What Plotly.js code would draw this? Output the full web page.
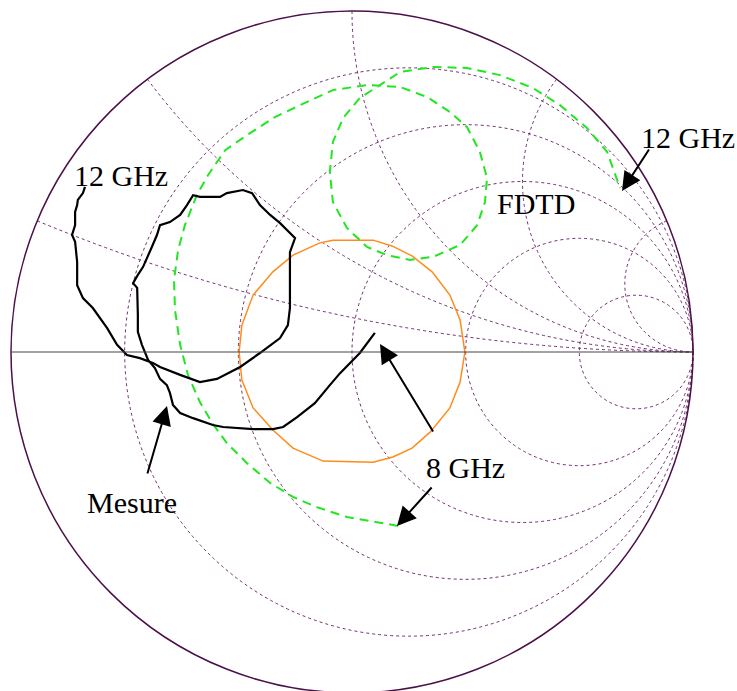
<!DOCTYPE html>
<html>
<head>
<meta charset="utf-8">
<script src="https://cdn.plot.ly/plotly-3.0.1.min.js"></script>
<style>
html,body{margin:0;padding:0;overflow:hidden;background:#fff;}
#chart{width:737px;height:700px;}
</style>
</head>
<body>
<div id="chart"></div>
<script>
const mesureGammaRe = [-0.783,-0.789,-0.804,-0.806,-0.812,-0.812,-0.821,-0.812,-0.806,-0.806,-0.789,-0.760,-0.718,-0.689,-0.660,-0.622,-0.584,-0.563,-0.504,-0.446,-0.396,-0.328,-0.270,-0.211,-0.188,-0.182,-0.182,-0.182,-0.167,-0.176,-0.211,-0.240,-0.270,-0.293,-0.320,-0.367,-0.387,-0.446,-0.466,-0.484,-0.504,-0.534,-0.563,-0.572,-0.587,-0.601,-0.613,-0.628,-0.642,-0.630,-0.628,-0.628,-0.616,-0.598,-0.578,-0.563,-0.543,-0.534,-0.525,-0.504,-0.466,-0.408,-0.378,-0.290,-0.232,-0.202,-0.161,-0.109,-0.065,-0.035,0.023,0.067];
const mesureGammaIm = [0.484,0.466,0.446,0.431,0.411,0.372,0.343,0.323,0.264,0.196,0.158,0.129,0.070,0.021,-0.009,-0.018,-0.032,-0.044,-0.067,-0.088,-0.079,-0.044,-0.003,0.041,0.079,0.129,0.217,0.293,0.334,0.343,0.378,0.402,0.431,0.466,0.475,0.466,0.455,0.455,0.460,0.431,0.402,0.381,0.372,0.343,0.308,0.276,0.249,0.226,0.202,0.188,0.109,0.059,0.021,-0.023,-0.047,-0.079,-0.097,-0.120,-0.155,-0.179,-0.194,-0.214,-0.220,-0.226,-0.226,-0.220,-0.191,-0.150,-0.097,-0.062,-0.003,0.056];

const fdtdGammaRe = [0.135,0.073,-0.015,-0.103,-0.173,-0.240,-0.308,-0.367,-0.408,-0.446,-0.481,-0.504,-0.519,-0.522,-0.510,-0.490,-0.455,-0.422,-0.372,-0.299,-0.226,-0.152,-0.056,0.044,0.141,0.220,0.287,0.337,0.375,0.396,0.390,0.367,0.317,0.238,0.170,0.103,0.044,-0.015,-0.056,-0.065,-0.056,-0.026,0.023,0.073,0.141,0.238,0.337,0.434,0.531,0.610,0.689,0.748,0.786];
const fdtdGammaIm = [-0.510,-0.499,-0.484,-0.455,-0.425,-0.384,-0.326,-0.267,-0.211,-0.147,-0.067,0.021,0.123,0.211,0.299,0.372,0.460,0.519,0.592,0.642,0.689,0.724,0.768,0.783,0.777,0.748,0.704,0.660,0.587,0.510,0.440,0.372,0.314,0.279,0.270,0.284,0.308,0.364,0.440,0.528,0.616,0.686,0.745,0.777,0.821,0.836,0.833,0.812,0.774,0.724,0.657,0.587,0.481];

const vswrGammaRe = [-0.331,-0.323,-0.290,-0.232,-0.173,-0.085,0.062,0.120,0.176,0.229,0.287,0.317,0.331,0.317,0.287,0.235,0.176,0.117,0.062,-0.056,-0.094,-0.173,-0.232,-0.290,-0.323,-0.331];
const vswrGammaIm = [0,-0.082,-0.164,-0.229,-0.282,-0.320,-0.323,-0.308,-0.282,-0.235,-0.164,-0.088,0,0.094,0.167,0.235,0.282,0.311,0.328,0.328,0.320,0.284,0.235,0.167,0.079,0];

const gridReal = [0.2,0.5,1,2,5];
const gridImag = [0.2,0.5,1,2,5];

// Gamma -> normalised impedance z = (1+G)/(1-G)
function toZ(gr, gi){
  const re=[], im=[];
  for(let k=0;k<gr.length;k++){
    const a=gr[k], b=gi[k], d=(1-a)*(1-a)+b*b;
    re.push((1-a*a-b*b)/d); im.push(2*b/d);
  }
  return {re, im};
}
const mz=toZ(mesureGammaRe,mesureGammaIm), fz=toZ(fdtdGammaRe,fdtdGammaIm), vz=toZ(vswrGammaRe,vswrGammaIm);

const W=737, H=700;
const px=x=>x/W, py=y=>1-y/H;

const traces=[
 {type:'scattersmith', real:vz.re, imag:vz.im, mode:'lines', line:{color:'#ff8c1a', width:1.5}, hoverinfo:'skip', showlegend:false},
 {type:'scattersmith', real:fz.re, imag:fz.im, mode:'lines', line:{color:'#22e622', width:2, dash:'9px,6px'}, hoverinfo:'skip', showlegend:false},
 {type:'scattersmith', real:mz.re, imag:mz.im, mode:'lines', line:{color:'#000000', width:2.2}, hoverinfo:'skip', showlegend:false}
];

const font={family:'Liberation Serif, Times New Roman, serif', size:30, color:'#000'};
function label(t,x,y){return {text:t, xref:'paper', yref:'paper', x:px(x), y:py(y), xanchor:'center', yanchor:'middle', showarrow:false, font:font};}
function arrow(tx,ty,ax,ay){return {text:'', xref:'paper', yref:'paper', x:px(tx), y:py(ty), ax:ax, ay:ay, showarrow:true, arrowhead:2, arrowsize:1.9, arrowwidth:2, arrowcolor:'#000'};}

const layout={
  width:W, height:H,
  margin:{l:0,r:0,t:0,b:0},
  paper_bgcolor:'#fff',
  showlegend:false,
  smith:{
    domain:{x:[11/W, 693/W], y:[1-693/H, 1-11/H]},
    bgcolor:'#fff',
    realaxis:{tickvals:gridReal, showticklabels:false, ticks:'', showgrid:true, gridcolor:'#6e2e6e', griddash:'dot', gridwidth:1, showline:true, linecolor:'#444', linewidth:1},
    imaginaryaxis:{tickvals:gridImag, showticklabels:false, ticks:'', showgrid:true, gridcolor:'#6e2e6e', griddash:'dot', gridwidth:1, showline:true, linecolor:'#4b1048', linewidth:1.5}
  },
  annotations:[
    label('12 GHz',121,175), label('12 GHz',688,137), label('FDTD',536,204), label('8 GHz',465,467), label('Mesure',132,502),
    arrow(622,191,28,-43), arrow(380,344,54,89), arrow(397,526,36,-40), arrow(167,406,-20,69)
  ]
};
Plotly.newPlot('chart', traces, layout, {staticPlot:true});
</script>
</body>
</html>
